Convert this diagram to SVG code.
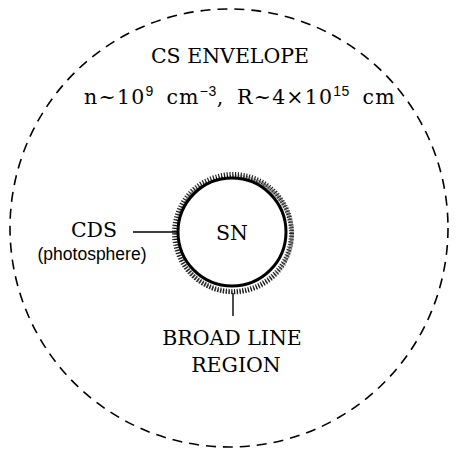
<svg xmlns="http://www.w3.org/2000/svg" width="458" height="455" viewBox="0 0 458 455">
<style>
.serif{font-family:"DejaVu Serif","Liberation Serif",serif;font-size:20.5px;fill:#000}
.wide{letter-spacing:1.2px;word-spacing:5px}
.sup{font-family:"Liberation Sans",Arial,sans-serif;font-size:14px;letter-spacing:0.5px}
.sans{font-family:"Liberation Sans",Arial,sans-serif;font-size:17.5px;fill:#000}
.conn{stroke:#000;stroke-width:1.4;fill:none}
</style>
<rect width="458" height="455" fill="#fff"/>
<g id="envelope">
<circle cx="229" cy="228" r="219" fill="none" stroke="#000" stroke-width="1.6" stroke-dasharray="10 7"/>
<text class="serif" x="230" y="63" text-anchor="middle">CS ENVELOPE</text>
<text class="serif wide" x="240" y="104" text-anchor="middle">n~10<tspan class="sup" dy="-8">9</tspan><tspan dy="8"> cm</tspan><tspan class="sup" dy="-8">−3</tspan><tspan dy="8">, R~4×10</tspan><tspan class="sup" dy="-8">15</tspan><tspan dy="8"> cm</tspan></text>
</g>
<g id="sn">
<circle cx="233" cy="233" r="58.5" fill="none" stroke="#000" stroke-width="5" stroke-dasharray="1.2 1.6" opacity="0.85"/>
<circle cx="234" cy="234.5" r="58" fill="none" stroke="#000" stroke-width="4" stroke-dasharray="1 1.8" opacity="0.6"/>
<circle cx="232" cy="232" r="54" fill="#fff" stroke="#000" stroke-width="3"/>
<text class="serif" x="232" y="240" text-anchor="middle">SN</text>
</g>
<g id="cds">
<text class="serif" x="94" y="237" text-anchor="middle">CDS</text>
<text class="sans" x="92" y="260" text-anchor="middle">(photosphere)</text>
</g>
<g id="blr">
<text class="serif" x="232" y="345" text-anchor="middle">BROAD LINE</text>
<text class="serif" x="236" y="372" text-anchor="middle">REGION</text>
</g>
<g id="connectors">
<line class="conn" x1="133" y1="232" x2="178" y2="232"/>
<line class="conn" x1="233" y1="293" x2="233" y2="316"/>
</g>
</svg>
